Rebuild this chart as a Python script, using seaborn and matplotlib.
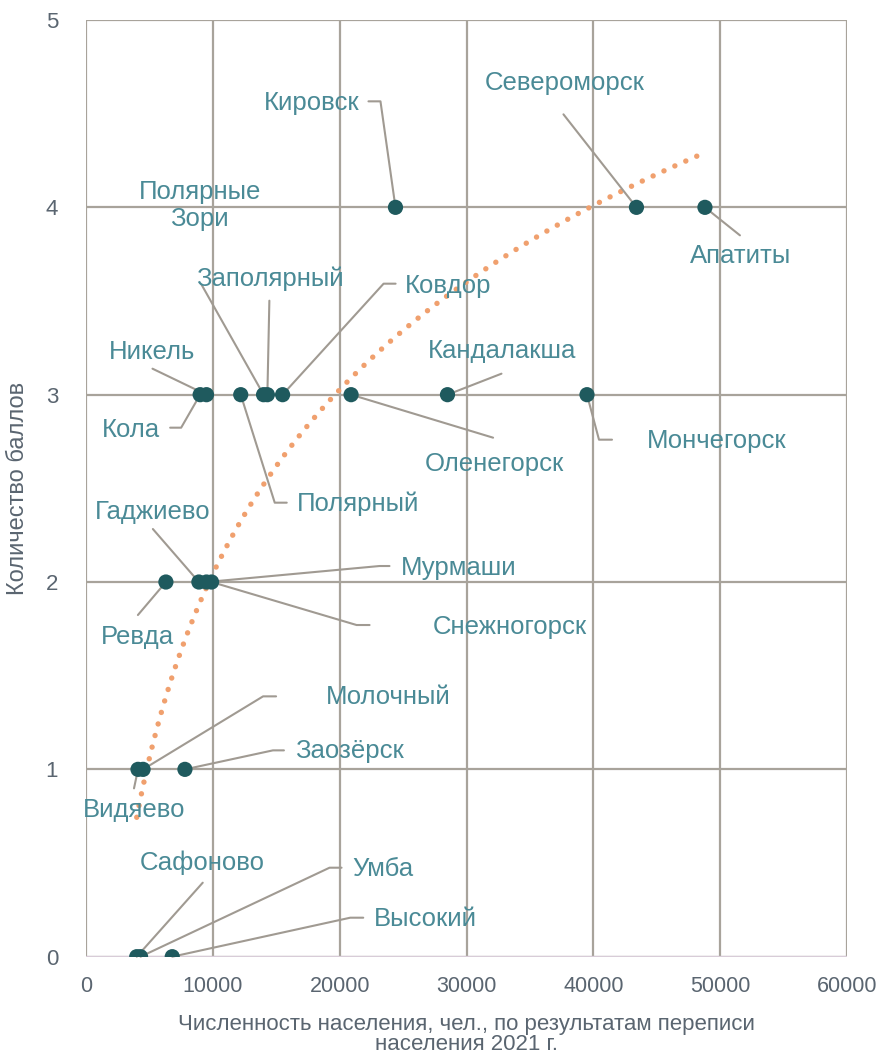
import numpy as np
import pandas as pd
import seaborn as sns
import matplotlib
matplotlib.use("Agg")
import matplotlib.pyplot as plt

sns.set_theme(style="white")
plt.rcParams['font.family'] = ['Liberation Sans', 'DejaVu Sans']

# data
towns = ['Кировск', 'Североморск', 'Апатиты', 'Полярные\nЗори', 'Заполярный', 'Ковдор',
         'Никель', 'Кола', 'Полярный', 'Кандалакша', 'Оленегорск', 'Мончегорск',
         'Гаджиево', 'Ревда', 'Мурмаши', 'Снежногорск',
         'Молочный', 'Заозёрск', 'Видяево',
         'Сафоново', 'Умба', 'Высокий']
population = [24400, 43400, 48800, 14000, 14300, 15500,
              9500, 9000, 12200, 28500, 20900, 39500,
              8900, 6300, 9500, 9900,
              4500, 7800, 4100,
              4000, 4300, 6800]
score = [4, 4, 4, 3, 3, 3,
         3, 3, 3, 3, 3, 3,
         2, 2, 2, 2,
         1, 1, 1,
         0, 0, 0]
x_ticks = [0, 10000, 20000, 30000, 40000, 50000, 60000]
y_ticks = [0, 1, 2, 3, 4, 5]

# label layout: text centre and leader path, pixel offsets from the point (image y down)
label_layout = {
    'Кировск': ((-84, -104), [(-15, -106), (-27, -106)]),
    'Североморск': ((-72, -124), [(-73, -93)]),
    'Апатиты': ((36, 49), [(35, 28)]),
    'Полярные\nЗори': ((-64, -189), [(-62, -110)]),
    'Заполярный': ((3, -116), [(2, -94)]),
    'Ковдор': ((166, -109), [(101, -111), (113, -111)]),
    'Никель': ((-54, -43), [(-54, -26)]),
    'Кола': ((-69, 35), [(-19, 33), (-30, 33)]),
    'Полярный': ((117, 109), [(34, 108), (46, 108)]),
    'Кандалакша': ((55, -44), [(54, -21)]),
    'Оленегорск': ((143, 69), [(142, 43)]),
    'Мончегорск': ((130, 46), [(12, 45), (25, 45)]),
    'Гаджиево': ((-46, -70), [(-46, -53)]),
    'Ревда': ((-28, 55), [(-28, 33)]),
    'Мурмаши': ((252, -14), [(173, -16), (183, -16)]),
    'Снежногорск': ((298, 45), [(145, 43), (158, 43)]),
    'Молочный': ((245, -72), [(120, -73), (133, -73)]),
    'Заозёрск': ((165, -18), [(88, -19), (99, -19)]),
    'Видяево': ((-4, 41), [(-4, 19)]),
    'Сафоново': ((66, -94), [(66, -74)]),
    'Умба': ((242, -88), [(189, -89), (201, -89)]),
    'Высокий': ((253, -38), [(178, -39), (191, -39)]),
}

df = pd.DataFrame({'town': towns, 'population': population, 'score': score})

point_color = '#1f5a5e'
label_color = '#4a8a96'
grid_color = '#a8a39b'
tick_color = '#5a6570'
trend_color = '#f0a06e'

fig = plt.figure(figsize=(8.84, 10.61), dpi=100)
ax = fig.add_axes([86 / 884, 1 - 956.7 / 1061, 761 / 884, 936.7 / 1061])
ax.set_xlim(0, 60000)
ax.set_ylim(0, 5)
ax.set_xticks(x_ticks)
ax.set_yticks(y_ticks)
ax.grid(True, color=grid_color, linewidth=1.6)
ax.set_axisbelow(True)
for side in ['top', 'right', 'left', 'bottom']:
    ax.spines[side].set_visible(False)
ax.axhline(0, color='#d8ccd8', linewidth=1.6, zorder=1)

# logarithmic trend line
a, b = np.polyfit(np.log(df['population']), df['score'], 1)
xs = np.linspace(df['population'].min(), df['population'].max(), 200)
trend = pd.DataFrame({'population': xs, 'score': a * np.log(xs) + b})
sns.lineplot(data=trend, x='population', y='score', ax=ax, color=trend_color,
             linewidth=3.9, linestyle=(0, (0.01, 2.2)), dash_capstyle='round', zorder=2)

sns.scatterplot(data=df, x='population', y='score', ax=ax, color=point_color,
                s=120, edgecolor='none', zorder=4)

# labels with leader lines
fig.canvas.draw()
to_data = ax.transData.inverted()
for _, row in df.iterrows():
    (tx, ty), path = label_layout[row['town']]
    px, py = ax.transData.transform((row['population'], row['score']))
    verts = [(px, py)] + [(px + dx, py - dy) for dx, dy in path]
    dverts = to_data.transform(verts)
    ax.plot(dverts[:, 0], dverts[:, 1], color='#a09a92', linewidth=1.5, zorder=3,
            clip_on=False)
    tpos = to_data.transform((px + tx, py - ty))
    ax.text(tpos[0], tpos[1], row['town'], ha='center', va='center', fontsize=18.5,
            color=label_color, linespacing=1.15, zorder=5)

ax.tick_params(axis='x', labelsize=15.5, colors=tick_color, length=0, pad=14)
ax.tick_params(axis='y', labelsize=16, colors=tick_color, length=0, pad=20)
ax.set_xlabel('Численность населения, чел., по результатам переписи\nнаселения 2021 г.',
              fontsize=16, color=tick_color, labelpad=12, linespacing=0.92)
ax.set_ylabel('Количество баллов', fontsize=17, color=tick_color, labelpad=12)

fig.savefig('out.png', dpi=100, facecolor='white')
